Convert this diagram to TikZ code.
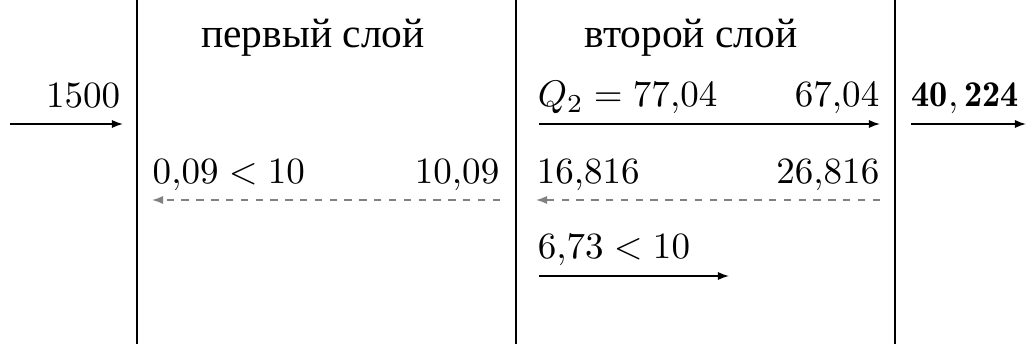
\documentclass[tikz,border=0pt]{standalone}
\usepackage{fontspec}
\newfontfamily\cyr{Liberation Serif}
\usetikzlibrary{arrows.meta}
\begin{document}
\begin{tikzpicture}[x=0.27pt,y=-0.27pt,
  wall/.style={line width=0.7pt},
  lbl/.style={inner sep=0pt,font=\fontsize{9.8}{12}\selectfont},
  hdr/.style={inner sep=0pt,font=\cyr\fontsize{11.2}{13}\selectfont},
  flow/.style={-{Latex[length=3pt,width=2.2pt]},line width=0.4pt},
  back/.style={flow,gray,dash pattern=on 2pt off 2pt}]
\useasboundingbox (0,0) rectangle (1031,344);
% walls
\coordinate (w1t) at (137,0); \coordinate (w1b) at (137,344);
\coordinate (w2t) at (516,0); \coordinate (w2b) at (516,344);
\coordinate (w3t) at (895,0); \coordinate (w3b) at (895,344);
\draw[wall] (w1t) -- (w1b);
\draw[wall] (w2t) -- (w2b);
\draw[wall] (w3t) -- (w3b);
% headers
\node[hdr,anchor=base] (h1) at (313,48) {первый слой};
\node[hdr,anchor=base] (h2) at (691,48) {второй слой};
% labels
\node[lbl,anchor=base east] (in) at (121,108) {$1500$};
\node[lbl,anchor=base west] (q2) at (537,107) {$Q_2=77{,}04$};
\node[lbl,anchor=base east] (q2r) at (880,107) {$67{,}04$};
\node[lbl,anchor=base west] (out) at (911,107) {$\mathbf{40}\mathpunct{\mathbf{,}}\mathbf{224}$};
\node[lbl,anchor=base west] (r1l) at (152,184) {$0{,}09<10$};
\node[lbl,anchor=base east] (r1r) at (500,184) {$10{,}09$};
\node[lbl,anchor=base west] (r2l) at (536,184) {$16{,}816$};
\node[lbl,anchor=base east] (r2r) at (880,184) {$26{,}816$};
\node[lbl,anchor=base west] (r3) at (537,259) {$6{,}73<10$};
% arrow endpoints
\coordinate (a0s) at (10,124); \coordinate (a0e) at (123,124);
\coordinate (a1s) at (539,124); \coordinate (a1e) at (880,124);
\coordinate (a2s) at (911,124); \coordinate (a2e) at (1026,124);
\coordinate (b1s) at (500,200); \coordinate (b1e) at (152,200);
\coordinate (b2s) at (880,200); \coordinate (b2e) at (536,200);
\coordinate (c1s) at (539,276); \coordinate (c1e) at (729,276);
\draw[flow] (a0s) -- (a0e);
\draw[flow] (a1s) -- (a1e);
\draw[flow] (a2s) -- (a2e);
\draw[back] (b1s) -- (b1e);
\draw[back] (b2s) -- (b2e);
\draw[flow] (c1s) -- (c1e);
\end{tikzpicture}
\end{document}
